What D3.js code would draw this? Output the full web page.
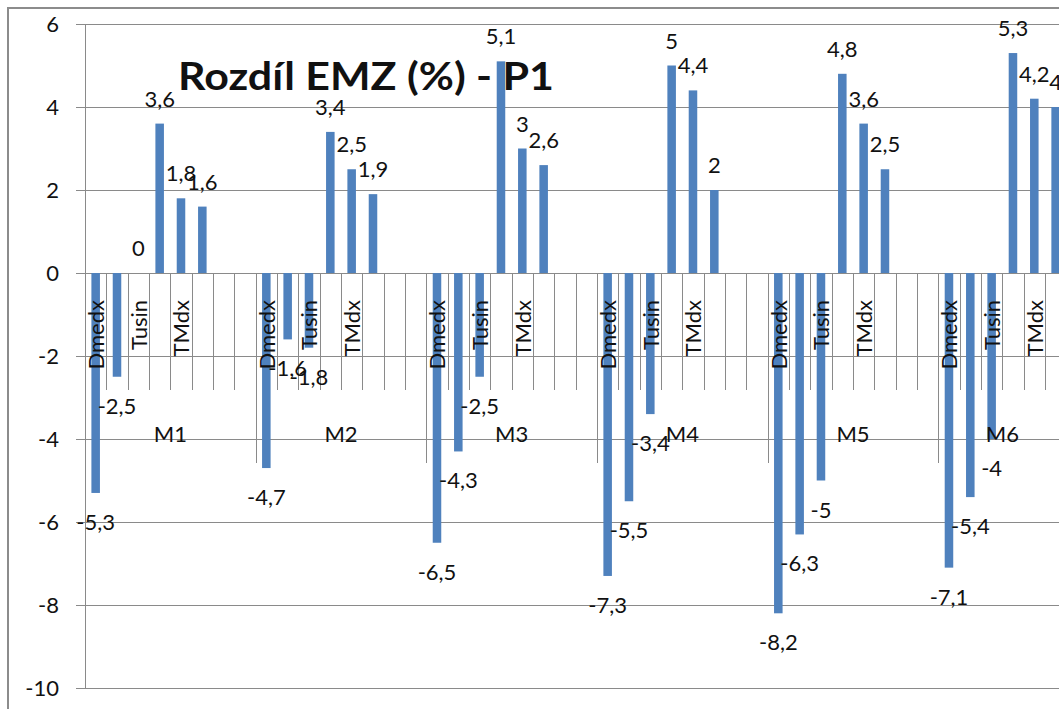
<!DOCTYPE html>
<html>
<head>
<meta charset="utf-8">
<script src="https://cdn.jsdelivr.net/npm/d3@7/dist/d3.min.js"></script>
<style>
  html, body { margin: 0; padding: 0; background: #fff; }
  svg { display: block; }
  text { font-family: Lato, "Open Sans", "DejaVu Sans", sans-serif; fill: #111; }
</style>
</head>
<body>
<svg id="chart" width="1059" height="709"></svg>
<script>
// Groups on the outer category level
const groups = ["M1", "M2", "M3", "M4", "M5", "M6"];

// Inner category tick labels (every other one is shown; blank slots carry no text)
const subLabels = ["Dmedx", "", "Tusin", "", "TMdx", "", "", ""];

// Values per group (null = empty category slot)
const valuesM1 = [-5.3, -2.5, 0, 3.6, 1.8, 1.6, null, null];
const valuesM2 = [-4.7, -1.6, -1.8, 3.4, 2.5, 1.9, null, null];
const valuesM3 = [-6.5, -4.3, -2.5, 5.1, 3, 2.6, null, null];
const valuesM4 = [-7.3, -5.5, -3.4, 5, 4.4, 2, null, null];
const valuesM5 = [-8.2, -6.3, -5, 4.8, 3.6, 2.5, null, null];
const valuesM6 = [-7.1, -5.4, -4, 5.3, 4.2, 4];

// Value axis ticks
const yTicks = [6, 4, 2, 0, -2, -4, -6, -8, -10];

const title = "Rozdíl EMZ (%) - P1";

const groupValues = [valuesM1, valuesM2, valuesM3, valuesM4, valuesM5, valuesM6];

// Flatten into one list of category slots
const slots = [];
groupValues.forEach((vals, gi) => {
  vals.forEach((v, si) => {
    slots.push({ id: slots.length, group: groups[gi], gi, si, label: subLabels[si], value: v });
  });
});

const svg = d3.select("#chart");
const plot = { left: 85, right: 1066.3, top: 24, bottom: 688 };
const fontSize = 22;
const gridColor = "#8a8a8a";
const barColor = "#4f81bd";

const y = d3.scaleLinear().domain([-10, 6]).range([plot.bottom, plot.top]);
const xSlot = d3.scaleBand().domain(slots.map(d => d.id)).range([plot.left, plot.right]);
const xBar = d3.scaleBand().domain(slots.map(d => d.id)).range([plot.left, plot.right])
  .paddingInner(0.6).paddingOuter(0.3);
const step = xSlot.step();
const y0 = y(0);

// Chart frame
svg.append("rect")
  .attr("x", 8).attr("y", 8).attr("width", 1200).attr("height", 800)
  .attr("fill", "none").attr("stroke", "#8c8c8c").attr("stroke-width", 2);

// Horizontal gridlines (with outside tick marks)
svg.append("g").selectAll("line").data(yTicks).join("line")
  .attr("x1", plot.left - 9).attr("x2", 1100)
  .attr("y1", d => Math.round(y(d)) + 0.5).attr("y2", d => Math.round(y(d)) + 0.5)
  .attr("stroke", gridColor).attr("stroke-width", 1);

// Value axis line
svg.append("line")
  .attr("x1", plot.left + 0.5).attr("x2", plot.left + 0.5)
  .attr("y1", plot.top).attr("y2", plot.bottom)
  .attr("stroke", gridColor);

// Category dividers: short ones between slots, long ones between groups
const boundaries = slots.map(d => ({ x: xSlot(d.id), groupStart: d.si === 0 }));
boundaries.push({ x: plot.right, groupStart: true });
svg.append("g").selectAll("line").data(boundaries.filter(d => d.x > plot.left + 1)).join("line")
  .attr("x1", d => Math.round(d.x) + 0.5).attr("x2", d => Math.round(d.x) + 0.5)
  .attr("y1", y0).attr("y2", d => d.groupStart ? 463 : 390)
  .attr("stroke", gridColor);

// Bars
svg.append("g").selectAll("rect").data(slots.filter(d => d.value !== null)).join("rect")
  .attr("x", d => xBar(d.id))
  .attr("width", xBar.bandwidth())
  .attr("y", d => Math.min(y(d.value), y0))
  .attr("height", d => Math.abs(y(d.value) - y0))
  .attr("fill", barColor);

// Value axis labels
svg.append("g").selectAll("text").data(yTicks).join("text")
  .attr("x", 59).attr("y", d => y(d) + 8)
  .attr("text-anchor", "end")
  .attr("font-size", fontSize)
  .text(d => String(d));

// Inner category labels (rotated)
svg.append("g").selectAll("text").data(slots.filter(d => d.label)).join("text")
  .attr("transform", d => `translate(${xSlot(d.id) + step / 2 + 8.5},300) rotate(-90)`)
  .attr("text-anchor", "end")
  .attr("font-size", fontSize)
  .text(d => d.label);

// Group labels
svg.append("g").selectAll("text").data(groups).join("text")
  .attr("x", g => {
    const s = slots.filter(d => d.group === g);
    return (xSlot(s[0].id) + xSlot(s[s.length - 1].id) + step) / 2;
  })
  .attr("y", 442)
  .attr("text-anchor", "middle")
  .attr("font-size", fontSize)
  .text(g => g);

// Data labels
const fmt = v => String(v).replace(".", ",");
svg.append("g").selectAll("text").data(slots.filter(d => d.value !== null)).join("text")
  .attr("x", d => xBar(d.id) + xBar.bandwidth() / 2)
  .attr("y", d => d.value < 0 ? y(d.value) + 37 : y(d.value) - 17)
  .attr("text-anchor", "middle")
  .attr("font-size", fontSize)
  .text(d => fmt(d.value));

// Title
svg.append("text")
  .attr("x", 366).attr("y", 90)
  .attr("text-anchor", "middle")
  .attr("font-size", 39)
  .attr("font-weight", "bold")
  .attr("textLength", 376)
  .attr("lengthAdjust", "spacingAndGlyphs")
  .text(title);
</script>
</body>
</html>
